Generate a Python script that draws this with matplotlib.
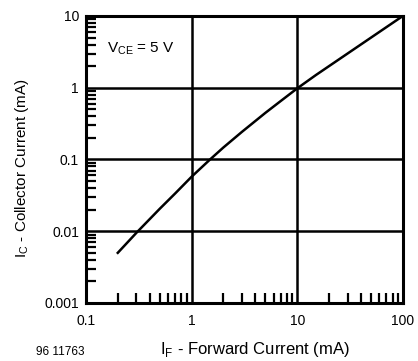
import numpy as np
import matplotlib.pyplot as plt
from matplotlib.ticker import LogLocator, FixedFormatter, FixedLocator, NullFormatter

plt.rcParams['font.family'] = ['Liberation Sans', 'DejaVu Sans']

# Datos (IF en mA, IC en mA)
i_f = [0.2, 0.3, 0.5, 0.7, 1, 1.5, 2, 3, 5, 7, 10, 15, 20, 30, 50, 70, 100]
i_c = [0.005, 0.0095, 0.0206, 0.0337, 0.0575, 0.1005, 0.147, 0.243, 0.447, 0.655, 0.98, 1.5, 2.0, 3.0, 5.0, 7.0, 10]

x_ticks = [0.1, 1, 10, 100]
x_labels = ['0.1', '1', '10', '100']
y_ticks = [0.001, 0.01, 0.1, 1, 10]
y_labels = ['0.001', '0.01', '0.1', '1', '10']

fig = plt.figure(figsize=(4.18, 3.61), dpi=100)
ax = fig.add_axes([0.2057, 0.1607, 0.758, 0.795])

ax.set_xscale('log')
ax.set_yscale('log')
ax.set_xlim(0.1, 100)
ax.set_ylim(0.001, 10)

# Rejilla en las decadas
for v in x_ticks[1:-1]:
    ax.axvline(v, color='black', lw=1.8, zorder=1)
for v in y_ticks[1:-1]:
    ax.axhline(v, color='black', lw=1.8, zorder=1)

ax.plot(i_f, i_c, color='black', lw=1.8, zorder=3)

ax.xaxis.set_major_locator(FixedLocator(x_ticks))
ax.xaxis.set_major_formatter(FixedFormatter(x_labels))
ax.yaxis.set_major_locator(FixedLocator(y_ticks))
ax.yaxis.set_major_formatter(FixedFormatter(y_labels))
ax.xaxis.set_minor_locator(LogLocator(base=10, subs=np.arange(2, 10)))
ax.yaxis.set_minor_locator(LogLocator(base=10, subs=np.arange(2, 10)))
ax.xaxis.set_minor_formatter(NullFormatter())
ax.yaxis.set_minor_formatter(NullFormatter())

ax.tick_params(which='major', length=0, labelsize=10)
ax.tick_params(axis='x', which='major', pad=8)
ax.tick_params(axis='y', which='major', pad=5)
ax.tick_params(which='minor', direction='in', length=7, width=1.6)
ax.tick_params(axis='x', which='both', top=False)
ax.tick_params(axis='y', which='both', right=False)

for s in ax.spines.values():
    s.set_linewidth(2.2)

ax.text(0.065, 0.875, 'V$_{\\mathregular{CE}}$ = 5 V', transform=ax.transAxes, fontsize=11)

ax.set_xlabel('I$_{\\mathregular{F}}$ - Forward Current (mA)', fontsize=12)
ax.set_ylabel('I$_{\\mathregular{C}}$ - Collector Current (mA)', fontsize=11)
ax.xaxis.set_label_coords(0.533, -0.129)
ax.yaxis.set_label_coords(-0.173, 0.47)

fig.text(0.085, 0.018, '96 11763', fontsize=8.5)

fig.savefig('out.png', dpi=100)
